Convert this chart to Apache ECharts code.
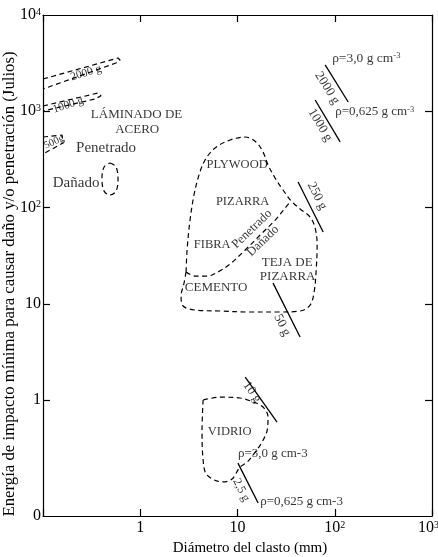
<!DOCTYPE html>
<html><head><meta charset="utf-8">
<script src="https://cdn.jsdelivr.net/npm/echarts@6/dist/echarts.min.js"></script>
<style>html,body{margin:0;padding:0;background:#fff}#c{width:438px;height:557px}</style>
</head><body><div id="c"></div>
<script>
const FONT = "'Liberation Serif','Times New Roman',serif";

// Axis ranges and tick labels
const xRange = [0.1, 1000];
const yRange = [0.0624, 10000];
const xTickValues = [0.1, 1, 10, 100, 1000];
const xTickLabels = ['', '1', '10', '{b|10}{s|2}', '{b|10}{s|3}{p|}'];
const yTickValues = [1, 10, 100, 1000];
const yLabelValues = [0.06245, 1, 10, 100, 1000, 9995];
const yLabelTexts = ['0', '1', '10', '{b|10}{s|2}', '{b|10}{s|3}', '{b|10}{s|4}'];

// Dashed fields: [diameter mm, energy J]
const steel2000 = [[0.1,2163],[0.591,3573],[0.62,3408],[0.563,3170],[0.1,1703]];
const steel1000 = [[0.1,1135],[0.368,1548],[0.395,1450],[0.343,1341],[0.1,1006]];
const steel500 = [[0.1,540],[0.157,566],[0.161,468],[0.1,360]];
const steelDamaged = [[0.489,290],[0.563,264],[0.591,198],[0.563,148],[0.489,135],[0.425,148],[0.404,198],[0.425,264],[0.489,290]];
const roofOuter = [[2.96,21.4],[3.03,36.2],[3.25,74.1],[3.57,135],[4.02,218],[4.64,312],[5.88,415],[8.39,503],[12.0,540],[15.5,480],[18.3,377],[20.6,277],[24.4,202],[29.4,152],[35.6,117],[44.0,96.5],[55.8,79.6],[62.9,61.2],[65.9,40.8],[64.4,22.4],[61.4,13.3],[55.8,9.70],[44.0,8.41],[27.4,8.21],[13.5,8.21],[6.62,8.41],[3.66,8.61],[2.76,9.48],[2.63,12.0],[2.82,16.4],[2.96,21.4]];
const roofDivide = [[2.96,21.4],[3.66,19.4],[4.87,19.4],[6.31,21.4],[8.39,25.9],[12.0,36.2],[17.1,51.8],[24.4,74.1],[30.9,98.9],[35.6,117]];
const glass = [[4.43,1.0],[6.62,1.07],[10.6,1.05],[14.5,0.953],[18.3,0.846],[20.6,0.666],[20.2,0.488],[17.9,0.366],[15.2,0.288],[12.6,0.227],[10.6,0.201],[8.79,0.151],[7.11,0.141],[4.87,0.166],[4.43,0.238],[4.32,0.488],[4.43,1.0]];

// Solid clast-mass lines
const massLines = [
  [[79.7,3027],[137.5,1248]],   // 2000 g
  [[62.9,1308],[113.6,480]],    // 1000 g
  [[42.0,184],[76.0,55.6]],     // 250 g
  [[23.2,16.4],[44.0,4.51]],    // 50 g
  [[12.0,1.73],[25.5,0.591]],   // 10 g
  [[10.1,0.221],[16.3,0.0851]]  // 2,5 g
];

// Annotations (text, position in data units)
const annotations = [
  {text:'LÁMINADO DE', at:[0.916, 914]},
  {text:'ACERO', at:[0.93, 638]},
  {text:'Penetrado', at:[0.445, 415]},
  {text:'Dañado', at:[0.219, 180]},
  {text:'2000 g', at:[0.277, 2497]},
  {text:'1000 g', at:[0.181, 1161]},
  {text:'500g', at:[0.130, 480]},
  {text:'PLYWOOD', at:[9.9, 277]},
  {text:'PIZARRA', at:[11.3, 114]},
  {text:'FIBRA', at:[5.49, 40.8]},
  {text:'Penetrado', at:[14.1, 59.8]},
  {text:'Dañado', at:[18.3, 44.9]},
  {text:'TEJA DE', at:[32.4, 26.5]},
  {text:'PIZARRA', at:[32.8, 19.0]},
  {text:'CEMENTO', at:[6.03, 14.6]},
  {text:'VIDRIO', at:[8.3, 0.465]},
  {text:'250 g', at:[65.9, 132]},
  {text:'50 g', at:[28.8, 6.01]},
  {text:'2000 g', at:[83.6, 1745]},
  {text:'1000 g', at:[70.8, 720]},
  {text:'10 g', at:[14.1, 1.21]},
  {text:'2,5 g', at:[10.9, 0.116]},
  {text:'ρ=3,0 g cm{s|-3}', at:[94.0, 3573]},
  {text:'ρ=0,625 g cm{s|-3}', at:[101, 982]},
  {text:'ρ=3,0 g cm-3', at:[10.1, 0.281]},
  {text:'ρ=0,625 g cm-3', at:[17.1, 0.0871]}
];
// style per annotation: [fontSize, rotate, align]
const annotationStyle = [
  [13,0,'center'],[13,0,'center'],[15,0,'center'],[15,0,'center'],
  [11.5,17,'center'],[11.5,18,'center'],[10.5,25,'center'],
  [12.5,0,'center'],[12.5,0,'center'],[12.5,0,'center'],
  [12.5,44,'center'],[12.5,44,'center'],
  [13,0,'center'],[13,0,'center'],[13,0,'center'],[12.5,0,'center'],
  [13,-63,'center'],[13,-63,'center'],[13,-58,'center'],[13,-59,'center'],
  [13,-55,'center'],[12,-63,'center'],
  [13.5,0,'left'],[13,0,'left'],[13,0,'left'],[13,0,'left']
];

const INK = '#000';
function lookup(values, texts, v) {
  const lv = Math.log10(v);
  for (let i = 0; i < values.length; i++) {
    if (Math.abs(Math.log10(values[i]) - lv) < 0.01) return texts[i];
  }
  return '';
}
const tickRich = {
  b: {fontSize: 16, fontFamily: FONT, color: INK, verticalAlign: 'middle'},
  s: {fontSize: 10, fontFamily: FONT, color: INK, verticalAlign: 'top'},
  p: {width: 7}
};

const chart = echarts.init(document.getElementById('c'), null, {renderer: 'canvas'});

const dashedSeries = [steel2000, steel1000, steel500, steelDamaged, roofOuter, roofDivide, glass].map((d, i) => ({
  type: 'line', data: d, symbol: 'none', silent: true,
  smooth: i >= 3 ? 0.35 : false,
  lineStyle: {color: INK, width: 1.2, type: [5, 3.5]}, z: 3
}));
const solidSeries = massLines.map(d => ({
  type: 'line', data: d, symbol: 'none', silent: true,
  lineStyle: {color: INK, width: 1.3}, z: 3
}));
const labelSeries = {
  type: 'scatter', silent: true, symbolSize: 1, itemStyle: {color: 'transparent'}, z: 5,
  data: annotations.map((a, i) => ({
    value: a.at,
    label: {
      show: true, position: 'inside', formatter: a.text,
      fontSize: annotationStyle[i][0], rotate: annotationStyle[i][1],
      align: annotationStyle[i][2], verticalAlign: 'middle',
      color: INK, fontFamily: FONT,
      rich: {s: {fontSize: 8.5, fontFamily: FONT, color: INK, verticalAlign: 'top'}}
    }
  }))
};

const axisLine = {show: true, lineStyle: {color: INK, width: 1.2}};
chart.setOption({
  animation: false,
  backgroundColor: '#fff',
  grid: {left: 43, right: 6, top: 15, bottom: 41, containLabel: false, outerBoundsMode: 'none'},
  xAxis: [
    {type: 'log', logBase: 10, min: xRange[0], max: xRange[1], position: 'bottom',
     axisLine, splitLine: {show: false},
     axisTick: {show: true, inside: true, length: 7, lineStyle: {color: INK, width: 1.2}},
     axisLabel: {margin: 4, fontSize: 16, fontFamily: FONT, color: INK, rich: tickRich,
       formatter: v => lookup(xTickValues, xTickLabels, v)}},
    {type: 'log', logBase: 10, min: xRange[0], max: xRange[1], position: 'top',
     axisLine, splitLine: {show: false},
     axisTick: {show: true, inside: true, length: 7, lineStyle: {color: INK, width: 1.2}},
     axisLabel: {show: false}}
  ],
  yAxis: [
    {type: 'log', logBase: 10, min: yRange[0], max: yRange[1], position: 'left',
     axisLine, splitLine: {show: false},
     axisTick: {show: true, inside: true, length: 7, customValues: yTickValues, lineStyle: {color: INK, width: 1.2}},
     axisLabel: {margin: 2, fontSize: 16, fontFamily: FONT, color: INK, rich: tickRich,
       customValues: yLabelValues,
       formatter: v => lookup(yLabelValues, yLabelTexts, v)}},
    {type: 'log', logBase: 10, min: yRange[0], max: yRange[1], position: 'right',
     axisLine, splitLine: {show: false},
     axisTick: {show: true, inside: true, length: 7, customValues: yTickValues, lineStyle: {color: INK, width: 1.2}},
     axisLabel: {show: false}}
  ],
  graphic: [
    {type: 'text', x: 10, y: 284, rotation: Math.PI / 2, silent: true,
     style: {text: 'Energía de impacto mínima para causar daño y/o penetración (Julios)',
       fontSize: 16.8, fontFamily: FONT, fill: INK, align: 'center', verticalAlign: 'middle'}},
    {type: 'text', x: 250, y: 548, silent: true,
     style: {text: 'Diámetro del clasto (mm)', fontSize: 15, fontFamily: FONT, fill: INK,
       align: 'center', verticalAlign: 'middle'}}
  ],
  series: [...dashedSeries, ...solidSeries, labelSeries]
});
</script></body></html>
